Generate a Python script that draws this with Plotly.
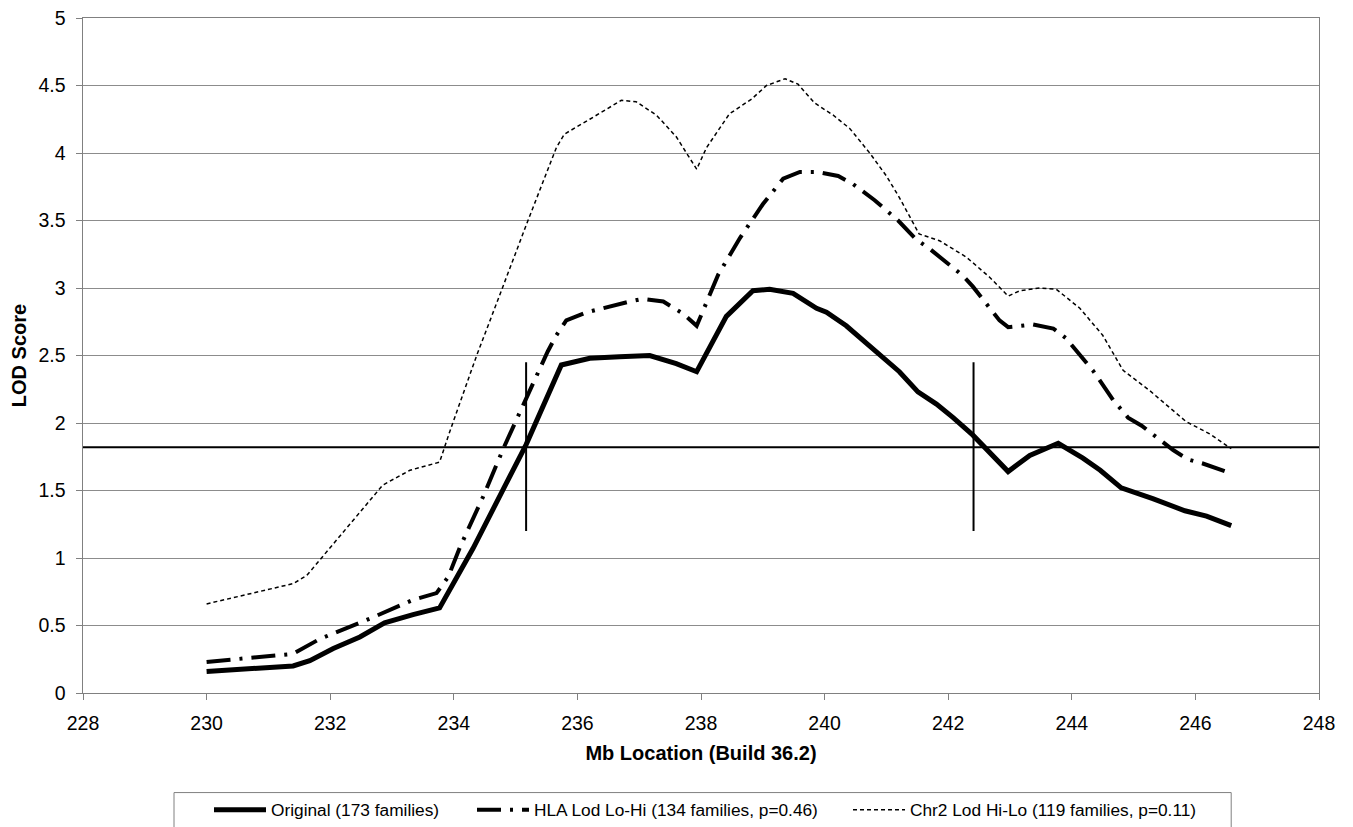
import plotly.graph_objects as go

# ---------------- data ----------------
orig_x = [230.0, 231.4, 231.67, 232.05, 232.48, 232.88, 233.34, 233.77, 234.31, 234.74,
          235.17, 235.74, 236.2, 236.68, 236.95, 237.17, 237.6, 237.93, 238.41, 238.84,
          239.11, 239.49, 239.87, 240.03, 240.35, 240.62, 240.89, 241.21, 241.51, 241.81,
          242.08, 242.40, 242.97, 243.32, 243.78, 244.18, 244.46, 244.80, 245.31, 245.83,
          246.18, 246.58]
orig_y = [0.16, 0.20, 0.24, 0.33, 0.415, 0.52, 0.58, 0.63, 1.07, 1.45,
          1.84, 2.43, 2.48, 2.49, 2.50, 2.50, 2.44, 2.38, 2.79, 2.98,
          2.99, 2.96, 2.85, 2.82, 2.72, 2.61, 2.51, 2.38, 2.23, 2.14,
          2.04, 1.91, 1.64, 1.76, 1.85, 1.74, 1.65, 1.52, 1.44, 1.35,
          1.31, 1.24]

hla_x = [230.0, 231.40, 231.83, 232.69, 233.34, 233.72, 233.91, 234.10, 234.47, 234.82,
         235.13, 235.52, 235.66, 235.82, 236.15, 236.63, 236.85, 237.06, 237.39, 237.71,
         237.93, 238.28, 238.63, 239.0, 239.33, 239.60, 239.87, 240.22, 240.46, 240.81,
         241.19, 241.48, 241.70, 242.24, 242.40, 242.83, 242.97, 243.37, 243.70, 243.90,
         244.34, 244.67, 244.91, 245.13, 245.64, 245.88, 246.12, 246.56]
hla_y = [0.23, 0.29, 0.40, 0.56, 0.69, 0.74, 0.86, 1.08, 1.45, 1.83,
         2.14, 2.53, 2.65, 2.76, 2.82, 2.88, 2.90, 2.92, 2.90, 2.81,
         2.72, 3.10, 3.37, 3.62, 3.81, 3.86, 3.86, 3.83, 3.77, 3.65,
         3.50, 3.36, 3.29, 3.09, 3.01, 2.76, 2.71, 2.73, 2.70, 2.63,
         2.39, 2.17, 2.04, 1.98, 1.80, 1.73, 1.70, 1.63]

chr2_x = [230.0, 231.40, 231.62, 231.88, 232.85, 233.29, 233.77, 233.93, 234.37, 234.72,
          235.2, 235.66, 235.79, 236.2, 236.71, 236.95, 237.28, 237.60, 237.93, 238.09,
          238.46, 238.82, 239.06, 239.36, 239.57, 239.84, 240.14, 240.41, 240.73, 241.0,
          241.21, 241.53, 241.86, 242.29, 242.67, 242.97, 243.16, 243.48, 243.75, 244.13,
          244.50, 244.83, 245.26, 245.85, 246.23, 246.58]
chr2_y = [0.66, 0.81, 0.87, 1.01, 1.54, 1.65, 1.71, 1.93, 2.50, 2.92,
          3.50, 4.04, 4.14, 4.25, 4.39, 4.38, 4.28, 4.12, 3.88, 4.04,
          4.29, 4.40, 4.50, 4.55, 4.51, 4.37, 4.28, 4.18, 4.00, 3.83,
          3.67, 3.40, 3.35, 3.23, 3.08, 2.94, 2.98, 3.00, 2.99, 2.85,
          2.65, 2.39, 2.24, 2.01, 1.92, 1.81]

series_names = ["Original (173 families)",
                "HLA Lod Lo-Hi (134 families, p=0.46)",
                "Chr2 Lod Hi-Lo (119 families, p=0.11)"]

threshold_lod = 1.82
interval_bounds = [235.17, 242.41]
interval_lod_range = [1.2, 2.45]

x_range = [228, 248]
y_range = [0, 5]
x_ticks = [228, 230, 232, 234, 236, 238, 240, 242, 244, 246, 248]
y_ticks = [0, 0.5, 1, 1.5, 2, 2.5, 3, 3.5, 4, 4.5, 5]
y_ticklabels = ["0", "0.5", "1", "1.5", "2", "2.5", "3", "3.5", "4", "4.5", "5"]

# ---------------- figure ----------------
FONT = "Liberation Sans, Arial, sans-serif"
fig = go.Figure()

fig.add_trace(go.Scatter(x=orig_x, y=orig_y, mode="lines", name=series_names[0],
                         legend="legend",
                         line=dict(color="black", width=5)))
fig.add_trace(go.Scatter(x=hla_x, y=hla_y, mode="lines", name=series_names[1],
                         legend="legend2",
                         line=dict(color="black", width=4, dash="24px,9px,3px,9px")))
fig.add_trace(go.Scatter(x=chr2_x, y=chr2_y, mode="lines", name=series_names[2],
                         legend="legend3",
                         line=dict(color="black", width=1.5, dash="4px,3px")))

# threshold line
fig.add_trace(go.Scatter(x=x_range, y=[threshold_lod, threshold_lod], mode="lines",
                         line=dict(color="black", width=2), showlegend=False,
                         hoverinfo="skip"))
# interval bounds
for xb in interval_bounds:
    fig.add_trace(go.Scatter(x=[xb, xb], y=interval_lod_range, mode="lines",
                             line=dict(color="black", width=2), showlegend=False,
                             hoverinfo="skip"))

# page is rendered with an 8px body margin; compensate
OFF = 8
W, H = 1353 - OFF, 827 - OFF
plot_left, plot_right, plot_top, plot_bottom = 83.3 - OFF, 1319.3 - OFF, 17.5 - OFF, 692.7 - OFF
ml, mr, mt, mb = plot_left, W - plot_right, plot_top, H - plot_bottom
pw, ph = plot_right - plot_left, plot_bottom - plot_top

def px_to_paper_x(px):
    return (px - OFF - plot_left) / pw

def px_to_paper_y(py):
    return (plot_bottom - (py - OFF)) / ph

# legend box
fig.add_shape(type="rect", xref="paper", yref="paper",
              x0=px_to_paper_x(174.3), x1=px_to_paper_x(1231.5),
              y0=px_to_paper_y(792.3), y1=px_to_paper_y(850),
              line=dict(color="#808080", width=1), fillcolor="rgba(0,0,0,0)")

def legend_at(page_x):
    return dict(orientation="h", xref="container", yref="container",
                x=(page_x - OFF) / W, xanchor="left",
                y=(H - (810 - OFF)) / H, yanchor="middle",
                font=dict(family=FONT, size=17.3, color="black"),
                itemwidth=52, bgcolor="rgba(0,0,0,0)", borderwidth=0)

legend_symbol_starts = [214, 477, 853]

# invisible spacer keeps y tick labels a little farther from the ticks
y_ticktext = [t + '<span style="fill-opacity:0">-</span>' for t in y_ticklabels]

fig.update_layout(
    width=W, height=H,
    margin=dict(l=ml, r=mr, t=mt, b=mb, autoexpand=False),
    paper_bgcolor="white", plot_bgcolor="white",
    font=dict(family=FONT, color="black", size=19.5),
    showlegend=True,
    legend=legend_at(legend_symbol_starts[0] - 5),
    legend2=legend_at(legend_symbol_starts[1] - 5),
    legend3=legend_at(legend_symbol_starts[2] - 5),
    xaxis=dict(range=x_range, tickvals=x_ticks, showgrid=False, zeroline=False,
               showline=True, linecolor="#808080", linewidth=1, mirror=True,
               ticks="outside", ticklen=6, tickcolor="#808080",
               automargin=False, ticklabelstandoff=7,
               tickfont=dict(family=FONT, size=19.5),
               title=dict(text="Mb Location (Build 36.2)", standoff=12,
                          font=dict(family=FONT, size=20, weight="bold"))),
    yaxis=dict(range=y_range, tickvals=y_ticks, ticktext=y_ticktext,
               showgrid=True, gridcolor="#8c8c8c", gridwidth=1, zeroline=False,
               showline=True, linecolor="#808080", linewidth=1, mirror=True,
               ticks="outside", ticklen=6, tickcolor="#808080",
               automargin=True, ticklabeloverflow="allow",
               tickfont=dict(family=FONT, size=19.5),
               title=dict(text="LOD Score", standoff=9,
                          font=dict(family=FONT, size=20, weight="bold"))),
)

fig.write_html("out.html")
